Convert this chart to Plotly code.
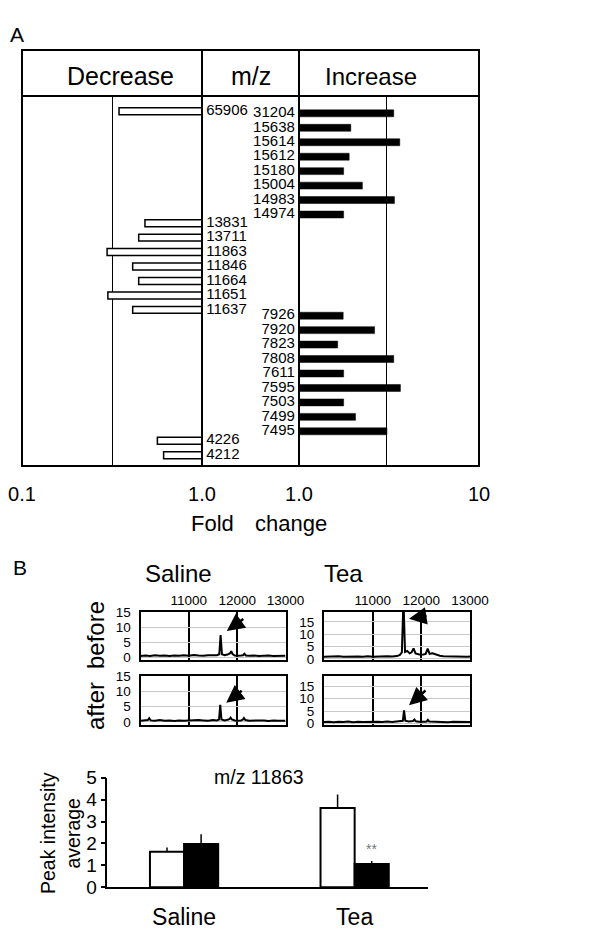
import plotly.graph_objects as go

W, H = 614, 928
OFF = 8  # page body margin of the html page


def px(x):
    return (x - OFF) / W


def py(y):
    return 1 - (y - OFF) / H


# ---------------- data ----------------
# Panel A: fold change of peaks (m/z)
dec_mz = ["65906", "13831", "13711", "11863", "11846", "11664", "11651", "11637", "4226", "4212"]
dec_fold = [0.346, 0.482, 0.445, 0.297, 0.412, 0.445, 0.300, 0.412, 0.565, 0.612]
inc_mz = ["31204", "15638", "15614", "15612", "15180", "15004", "14983", "14974",
          "7926", "7920", "7823", "7808", "7611", "7595", "7503", "7499", "7495"]
inc_fold = [3.36, 1.94, 3.63, 1.90, 1.77, 2.25, 3.39, 1.77,
            1.76, 2.63, 1.64, 3.36, 1.77, 3.66, 1.77, 2.06, 3.08]
dec_ref = 0.32
inc_ref = 3.05
dec_ticks = ["0.1", "", "1.0"]
inc_ticks = ["1.0", "", "10"]

# Panel B: spectra (m/z, intensity)
sal_before_mz = [10000, 10100, 10200, 10300, 10400, 10500, 10600, 10700, 10800, 10900, 11000,
                 11100, 11200, 11300, 11400, 11500, 11580, 11630, 11657, 11685, 11740, 11800,
                 11850, 11877, 11905, 11950, 12000, 12080, 12120, 12150, 12180, 12250, 12350,
                 12450, 12550, 12650, 12750, 12850, 12950, 13000]
sal_before_int = [0.3, 0.5, 0.3, 0.6, 0.4, 0.5, 0.3, 0.5, 0.4, 0.6, 0.4,
                  0.7, 0.5, 0.4, 0.6, 0.5, 0.6, 0.9, 7.3, 0.9, 0.6, 0.8,
                  1.2, 1.9, 1.0, 0.5, 0.4, 0.5, 0.6, 1.1, 0.5, 0.4, 0.5,
                  0.3, 0.4, 0.5, 0.3, 0.4, 0.5, 0.4]
sal_after_mz = [10000, 10100, 10150, 10180, 10210, 10300, 10400, 10500, 10600, 10700, 10800,
                10900, 11000, 11100, 11200, 11300, 11400, 11500, 11580, 11625, 11650, 11675,
                11740, 11800, 11840, 11865, 11890, 11950, 12000, 12080, 12115, 12140, 12170,
                12250, 12350, 12450, 12550, 12650, 12750, 12850, 12950, 13000]
sal_after_int = [0.4, 0.5, 0.6, 1.2, 0.5, 0.4, 0.6, 0.4, 0.5, 0.3, 0.5,
                 0.4, 0.5, 0.4, 0.6, 0.5, 0.4, 0.6, 0.5, 0.8, 5.6, 0.8,
                 0.5, 0.7, 0.9, 1.4, 0.8, 0.5, 0.4, 0.5, 0.7, 1.3, 0.6,
                 0.4, 0.5, 0.4, 0.5, 0.3, 0.5, 0.4, 0.5, 0.4]
tea_before_mz = [10000, 10100, 10200, 10300, 10400, 10500, 10600, 10700, 10800, 10900, 11000,
                 11100, 11200, 11300, 11400, 11500, 11560, 11600, 11633, 11665, 11710, 11760,
                 11800, 11840, 11880, 11930, 11980, 12040, 12090, 12130, 12170, 12230, 12300,
                 12380, 12450, 12550, 12650, 12750, 12850, 12950, 13000]
tea_before_int = [0.8, 0.9, 0.7, 1.0, 0.8, 0.9, 0.7, 0.9, 0.8, 1.0, 0.8,
                  0.9, 0.8, 1.0, 0.9, 1.1, 1.6, 2.6, 24.0, 2.8, 3.2, 2.2,
                  2.6, 4.2, 2.2, 1.8, 1.6, 1.7, 2.0, 4.1, 2.0, 2.2, 1.6,
                  1.2, 1.0, 0.9, 1.0, 0.8, 0.9, 0.8, 0.9]
tea_after_mz = [10000, 10100, 10200, 10300, 10400, 10500, 10600, 10700, 10800, 10900, 11000,
                11100, 11200, 11300, 11400, 11500, 11580, 11620, 11645, 11670, 11740, 11800,
                11830, 11857, 11885, 11950, 12000, 12080, 12110, 12135, 12160, 12250, 12350,
                12450, 12550, 12650, 12750, 12850, 12950, 13000]
tea_after_int = [0.7, 0.8, 0.6, 0.8, 0.7, 0.9, 0.6, 0.8, 0.7, 0.8, 0.7,
                 0.8, 0.7, 0.9, 0.7, 0.8, 0.9, 1.2, 5.3, 1.2, 0.9, 1.0,
                 1.1, 1.7, 1.0, 0.8, 0.7, 0.8, 0.9, 1.5, 0.9, 0.8, 0.7,
                 0.8, 0.6, 0.8, 0.7, 0.8, 0.6, 0.7]
spec_x_ticks = [11000, 12000, 13000]
sal_y_ticks = [0, 5, 10, 15]
tea_y_ticks = [0, 5, 10, 15]

# Panel B: peak intensity average of m/z 11863
groups = ["Saline", "Tea"]
before_mean = [1.62, 3.62]
before_err = [0.20, 0.61]
after_mean = [1.97, 1.06]
after_err = [0.45, 0.14]

# ---------------- layout helpers ----------------
FONT = "Liberation Sans, Arial, Helvetica, sans-serif"
NBSP = "\u00a0"

DEC_GROUP_SIZES = [1, 7, 2]
DEC_GROUP_START = [-0.15, 7.6, 22.65]
INC_GROUP_SIZES = [8, 9]
INC_GROUP_START = [0, 14]


def rows_from(sizes, starts):
    r = []
    for s, st in zip(sizes, starts):
        r += [st + i for i in range(s)]
    return r


dec_rows = rows_from(DEC_GROUP_SIZES, DEC_GROUP_START)
inc_rows = rows_from(INC_GROUP_SIZES, INC_GROUP_START)

fig = go.Figure(layout=dict(template="none"))

# Panel A bars
fig.add_trace(go.Bar(
    x=[v - 1 for v in dec_fold], base=[1] * len(dec_fold), y=dec_rows, orientation="h",
    width=0.48, marker=dict(color="white", line=dict(color="black", width=1.5)),
    xaxis="x", yaxis="y", hoverinfo="skip"))
fig.add_trace(go.Scatter(
    x=[1] * len(dec_mz), y=dec_rows, text=[NBSP + t for t in dec_mz], mode="text",
    textposition="middle right", textfont=dict(family=FONT, size=15, color="black"),
    cliponaxis=False, xaxis="x", yaxis="y", hoverinfo="skip"))
fig.add_trace(go.Bar(
    x=[v - 1 for v in inc_fold], base=[1] * len(inc_fold), y=inc_rows, orientation="h",
    width=0.48, marker=dict(color="black", line=dict(color="black", width=0.5)),
    xaxis="x2", yaxis="y", hoverinfo="skip"))
fig.add_trace(go.Scatter(
    x=[1] * len(inc_mz), y=inc_rows, text=[t + NBSP for t in inc_mz], mode="text",
    textposition="middle left", textfont=dict(family=FONT, size=15, color="black"),
    cliponaxis=False, xaxis="x2", yaxis="y", hoverinfo="skip"))

# Panel B spectra
spec_line = dict(color="black", width=2)
fig.add_trace(go.Scatter(x=sal_before_mz, y=sal_before_int, mode="lines", line=spec_line,
                         xaxis="x3", yaxis="y3", hoverinfo="skip"))
fig.add_trace(go.Scatter(x=sal_after_mz, y=sal_after_int, mode="lines", line=spec_line,
                         xaxis="x4", yaxis="y4", hoverinfo="skip"))
fig.add_trace(go.Scatter(x=tea_before_mz, y=tea_before_int, mode="lines", line=spec_line,
                         xaxis="x5", yaxis="y5", hoverinfo="skip"))
fig.add_trace(go.Scatter(x=tea_after_mz, y=tea_after_int, mode="lines", line=spec_line,
                         xaxis="x6", yaxis="y6", hoverinfo="skip"))

# Panel B bar chart
fig.add_trace(go.Bar(
    x=groups, y=before_mean, marker=dict(color="white", line=dict(color="black", width=2)),
    error_y=dict(type="data", array=before_err, arrayminus=[0] * len(groups), symmetric=False,
                 width=0, thickness=1.5, color="black"),
    xaxis="x7", yaxis="y7", hoverinfo="skip"))
fig.add_trace(go.Bar(
    x=groups, y=after_mean, marker=dict(color="black", line=dict(color="black", width=2)),
    error_y=dict(type="data", array=after_err, arrayminus=[0] * len(groups), symmetric=False,
                 width=0, thickness=1.5, color="black"),
    xaxis="x7", yaxis="y7", hoverinfo="skip"))

hidden = "rgba(0,0,0,0)"
fold_axis = dict(type="log", showgrid=True, gridcolor="black", gridwidth=1, zeroline=False,
                 showline=False, ticks="outside", ticklen=10, tickcolor=hidden, automargin=False,
                 tickfont=dict(family=FONT, size=20, color="black"), anchor="y")


def spec_x(domain, anchor, labels):
    return dict(range=[10000, 13000], domain=domain, anchor=anchor, side="top",
                tickvals=spec_x_ticks, ticktext=[str(v) for v in spec_x_ticks],
                showticklabels=labels, showgrid=True, gridcolor="black", gridwidth=2,
                showline=True, mirror=True, linecolor="black", linewidth=2, zeroline=False,
                ticks="", automargin=False, tickfont=dict(family=FONT, size=13.5, color="black"))


def spec_y(domain, anchor, rng, ticks):
    return dict(range=rng, domain=domain, anchor=anchor, tickvals=ticks,
                showgrid=True, gridcolor="#c8c8c8", gridwidth=1, showline=True, mirror=True,
                linecolor="black", linewidth=2, zeroline=False, ticks="outside", ticklen=5,
                tickcolor=hidden, automargin=False,
                tickfont=dict(family=FONT, size=13.5, color="black"))


sal_x = [px(140.5), px(285.5)]
tea_x = [px(324), px(470)]
bef_y = [py(660), py(612)]
aft_y = [py(725), py(676)]

fig.update_layout(
    width=W, height=H, margin=dict(l=0, r=0, t=0, b=0, pad=0, autoexpand=False),
    paper_bgcolor="white", plot_bgcolor="white", showlegend=False,
    barmode="group", bargap=0.6, bargroupgap=0,
    font=dict(family=FONT, color="black"),
    xaxis=dict(fold_axis, range=[-1, 0], domain=[px(22), px(202)],
               tickvals=[0.1, dec_ref, 1], ticktext=dec_ticks),
    xaxis2=dict(fold_axis, range=[0, 1], domain=[px(299), px(479)],
                tickvals=[1, inc_ref, 10], ticktext=inc_ticks),
    yaxis=dict(range=[24.4, -1.2], domain=[py(466), py(96)], visible=False, anchor="x",
               automargin=False),
    xaxis3=spec_x(sal_x, "y3", True),
    yaxis3=spec_y(bef_y, "x3", [-1, 15], sal_y_ticks),
    xaxis4=spec_x(sal_x, "y4", False),
    yaxis4=spec_y(aft_y, "x4", [-1, 15], sal_y_ticks),
    xaxis5=spec_x(tea_x, "y5", True),
    yaxis5=spec_y(bef_y, "x5", [-0.5, 19], tea_y_ticks),
    xaxis6=spec_x(tea_x, "y6", False),
    yaxis6=spec_y(aft_y, "x6", [-0.5, 19], tea_y_ticks),
    xaxis7=dict(type="category", range=[-0.45, 1.43], domain=[px(107.3), px(428)], anchor="y7",
                showline=True, linecolor="black", linewidth=1.5, ticks="outside", ticklen=8,
                tickcolor=hidden, tickfont=dict(family=FONT, size=23, color="black"),
                showgrid=False, zeroline=False, automargin=False),
    yaxis7=dict(range=[0, 5], domain=[py(887.3), py(777.7)], anchor="x7", showline=True,
                linecolor="black", linewidth=1.5, ticks="outside", ticklen=5, tickwidth=1.5,
                tickcolor="black", tickvals=[0, 1, 2, 3, 4, 5], showgrid=False, zeroline=False,
                automargin=False, tickfont=dict(family=FONT, size=19, color="black")),
)

# frame lines for panel A table
line = dict(color="black", width=2)
shapes = [
    dict(type="rect", xref="paper", yref="paper", x0=px(22), x1=px(479), y0=py(466), y1=py(50), line=line),
    dict(type="line", xref="paper", yref="paper", x0=px(22), x1=px(479), y0=py(96), y1=py(96), line=line),
    dict(type="line", xref="paper", yref="paper", x0=px(202), x1=px(202), y0=py(466), y1=py(50), line=line),
    dict(type="line", xref="paper", yref="paper", x0=px(299), x1=px(299), y0=py(466), y1=py(50), line=line),
]
fig.update_layout(shapes=shapes)


def label(text, x, y, size, angle=0, color="black"):
    return dict(text=text, x=px(x), y=py(y), xref="paper", yref="paper", showarrow=False,
                xanchor="center", yanchor="middle", textangle=angle,
                font=dict(family=FONT, size=size, color=color))


def arrow(xa, ya, x, y, ax, ay):
    return dict(text="", x=x, y=y, xref=xa, yref=ya, ax=ax, ay=ay, showarrow=True,
                arrowhead=2, arrowsize=1.4, arrowwidth=2.5, arrowcolor="black", standoff=0)


annotations = [
    label("A", 17, 35, 21),
    label("Decrease", 120, 76, 25),
    label("m/z", 251, 76, 25),
    label("Increase", 371, 76, 24),
    label("Fold", 212, 523, 22),
    label("change", 291, 523, 22),
    label("B", 20, 567, 21),
    label("Saline", 178, 573, 24),
    label("Tea", 343, 573, 24),
    label("before", 95, 635, 24, -90),
    label("after", 95, 706, 24, -90),
    label("m/z 11863", 259, 777, 19.5),
    label("Peak intensity<br>average", 60, 833, 19.5, -90),
    arrow("x3", "y3", 11786, 8.7, 18, -13),
    arrow("x4", "y4", 11774, 6.3, 17, -13),
    arrow("x5", "y5", 11747, 16.3, 19, -3),
    arrow("x6", "y6", 11747, 7.4, 18, -16),
    dict(text="**", x="Tea", y=after_mean[1] + after_err[1], xref="x7", yref="y7", xshift=17,
         yshift=2, yanchor="bottom", showarrow=False,
         font=dict(family=FONT, size=14, color="#777777")),
]
fig.update_layout(annotations=annotations)

fig.write_html("out.html")
